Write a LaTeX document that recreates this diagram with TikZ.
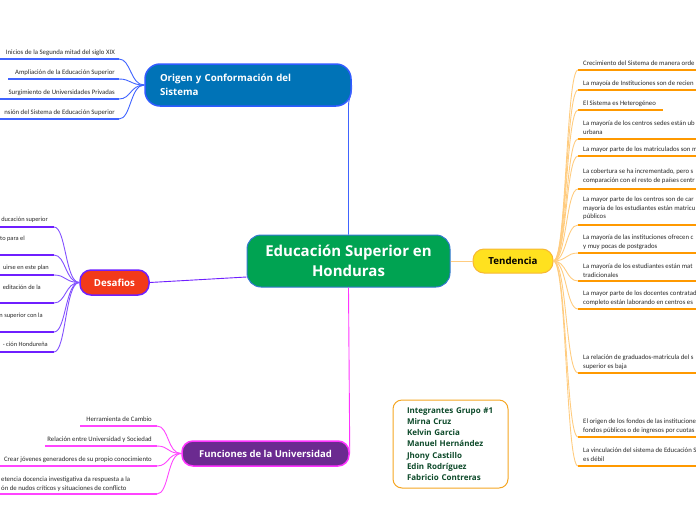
\documentclass[tikz,border=0pt]{standalone}
\usepackage{fontspec}
\setmainfont{Open Sans}
\newfontfamily\smallf{Carlito}
\definecolor{cenF}{RGB}{0,163,82}
\definecolor{cenB}{RGB}{52,120,210}
\definecolor{origF}{RGB}{0,115,183}
\definecolor{origB}{RGB}{47,91,255}
\definecolor{origL}{RGB}{64,100,255}
\definecolor{desF}{RGB}{242,58,26}
\definecolor{desB}{RGB}{111,31,255}
\definecolor{desL}{RGB}{130,80,255}
\definecolor{funF}{RGB}{107,42,144}
\definecolor{funB}{RGB}{255,51,255}
\definecolor{funL}{RGB}{255,68,255}
\definecolor{tenF}{RGB}{255,225,31}
\definecolor{tenB}{RGB}{247,183,51}
\definecolor{tenU}{RGB}{255,153,0}
\definecolor{tenL}{RGB}{255,204,128}
\definecolor{memB}{RGB}{245,166,35}
\definecolor{memG}{RGB}{13,74,42}
\definecolor{leafT}{RGB}{40,40,40}
\begin{document}
\begin{tikzpicture}[x=1pt,y=-1pt,
  leaf/.style={font=\smallf\fontsize{6.75}{8.8}\selectfont, inner sep=0pt, text=leafT},
  sleaf/.style={leaf, font=\smallf\fontsize{6.4}{8.8}\selectfont},
  topic/.style={line width=1.5pt, text=white, font=\bfseries\fontsize{9.7}{14}\selectfont, inner sep=0pt},
  uline/.style={line width=1.8pt},
  conn/.style={line width=0.9pt}]
\useasboundingbox (0,0) rectangle (696,520);
\clip (0,0) rectangle (696,520);

% ---------- main nodes ----------
\node[draw=cenB, fill=cenF, line width=1pt, rounded corners=14pt, minimum width=203pt, minimum height=52pt,
      text=white, font=\bfseries\fontsize{15}{20}\selectfont, align=center] (c) at (348.5,261) {Educación Superior en\\Honduras};

\node[topic, draw=origB, fill=origF, rounded corners=15pt, minimum height=42pt, text width=176pt, inner xsep=15pt,
      align=left] (o) at (248,85) {Origen y Conformación del\\Sistema};

\node[topic, draw=desB, fill=desF, rounded corners=11pt, minimum width=69pt, minimum height=25pt] (d) at (114.5,282.5) {Desafios};

\node[topic, draw=funB, fill=funF, rounded corners=11pt, minimum width=167pt, minimum height=25pt,
      font=\bfseries\fontsize{9.5}{12}\selectfont] (f) at (265.5,453.5) {Funciones de la Universidad};

\node[topic, draw=tenB, fill=tenF, line width=1pt, rounded corners=11pt, minimum width=80pt, minimum height=24pt, text=black] (t) at (513,261) {Tendencia};

\node[draw=memB, fill=white, line width=1pt, rounded corners=9pt, minimum width=115pt, minimum height=88pt,
      text width=87pt, inner xsep=14pt, align=left, text=memG, font=\bfseries\fontsize{8}{11.2}\selectfont] (m) at (450.5,444)
      {Integrantes Grupo \#1\\Mirna Cruz\\Kelvin Garcia\\Manuel Hernández\\Jhony Castillo\\Edin Rodríguez\\Fabricio Contreras};

% ---------- main connectors ----------
\draw[origL, conn] (c.north) -- ++(0,-128) .. controls +(0,-10) and +(0,12) .. (o.east);
\draw[desB, conn] ([yshift=-16pt]c.west) -- (d.east);
\draw[funB, conn] (c.south) -- (f.east);
\draw[tenL, conn] (c.east) -- (t.west);

% ---------- Origen children ----------
\foreach \yy/\xs/\tx [count=\i] in {59/0/{Inicios de la  Segunda mitad del siglo XIX},
                                     79/8/{Ampliación de la Educación Superior},
                                     99/0/{Surgimiento de Universidades Privadas},
                                     119/0/{nsión del Sistema de Educación Superior}} {
  \coordinate (oa\i) at (\xs,\yy);
  \coordinate (ob\i) at (119,\yy);
  \node[leaf, anchor=base east] (ot\i) at (115,\yy-4.8) {\tx};
  \draw[origL, uline] (oa\i) -- (ob\i);
  \draw[origL, conn] (o.west) .. controls +(-14,0) and (131,\yy) .. (ob\i);
}

% ---------- Desafios children ----------
\foreach \yy/\xe/\ty/\tx [count=\i] in {227/48/219/{ducación superior},
                                        255/25/238/{to para el},
                                        275/49/267/{uirse en este plan},
                                        303/41/287/{editación de la},
                                        332/43/315/{n superior con la},
                                        352/48/344/{- ción Hondureña}} {
  \coordinate (da\i) at (0,\yy);
  \coordinate (db\i) at (54,\yy);
  \node[sleaf, anchor=base east] (dt\i) at (\xe,\ty+2.3) {\tx};
  \draw[desB, uline] (da\i) -- (db\i);
  \draw[desL, conn] (d.west) .. controls +(-14,0) and (66,\yy) .. (db\i);
}

% ---------- Funciones children ----------
\foreach \yy/\xs/\tx [count=\i] in {426/80/{Herramienta de Cambio},
                                     446/45/{Relación entre Universidad y Sociedad},
                                     466/0/{Crear jóvenes generadores de su propio conocimiento}} {
  \coordinate (fa\i) at (\xs,\yy);
  \coordinate (fb\i) at (157,\yy);
  \node[leaf, anchor=base east] (ft\i) at (152,\yy-4.8) {\tx};
  \draw[funL, uline] (fa\i) -- (fb\i);
  \draw[funL, conn] (f.west) .. controls +(-14,0) and (169,\yy) .. (fb\i);
}
\coordinate (fa4) at (0,494);
\coordinate (fb4) at (157,494);
\node[leaf, anchor=north west, align=left] (ft4) at (1,476.6) {etencia docencia investigativa da respuesta a la\\ón de nudos críticos y situaciones de conflicto};
\draw[funL, uline] (fa4) -- (fb4);
\draw[funL, conn] (f.west) .. controls +(-14,0) and (169,494) .. (fb4);

% ---------- Tendencia children ----------
\foreach \yy/\xe/\ty/\tx [count=\i] in {
   70/700/63/{Crecimiento del Sistema de manera orde},
   90/700/83/{La mayoía de Instituciones son de recien},
   110/663/103/{El Sistema es Heterogéneo},
   139/700/123/{La mayoría de los centros sedes están ub\\urbana},
   156/700/149/{La mayor parte de los matriculados son m},
   189/700/171/{La cobertura se ha incrementado, pero s\\comparación con el resto de países centr},
   225/700/199/{La mayor parte de los centros son de car\\mayoría de los estudiantes están matricu\\públicos},
   253/700/237/{La mayoría de las instituciones ofrecen c\\y muy pocas de postgrados},
   281/700/266/{La mayoría de los estudiantes están mat\\tradicionales},
   309/700/293/{La mayor parte de los docentes contratad\\completo están laborando en centros es},
   373/700/357/{La relación de graduados-matricula del s\\superior es baja},
   437/700/421/{El origen de los fondos de las institucione\\fondos públicos o de ingresos por cuotas},
   466/700/450/{La vinculación del sistema de Educación S\\es débil}} {
  \coordinate (ta\i) at (578,\yy);
  \coordinate (tb\i) at (\xe,\yy);
  \node[leaf, anchor=north west, align=left] (tt\i) at (583,\ty-2.6) {\tx};
  \draw[tenU, uline] (ta\i) -- (tb\i);
  \draw[tenL, conn] (t.east) .. controls +(13,0) and (566,\yy) .. (ta\i);
}
\end{tikzpicture}
\end{document}
